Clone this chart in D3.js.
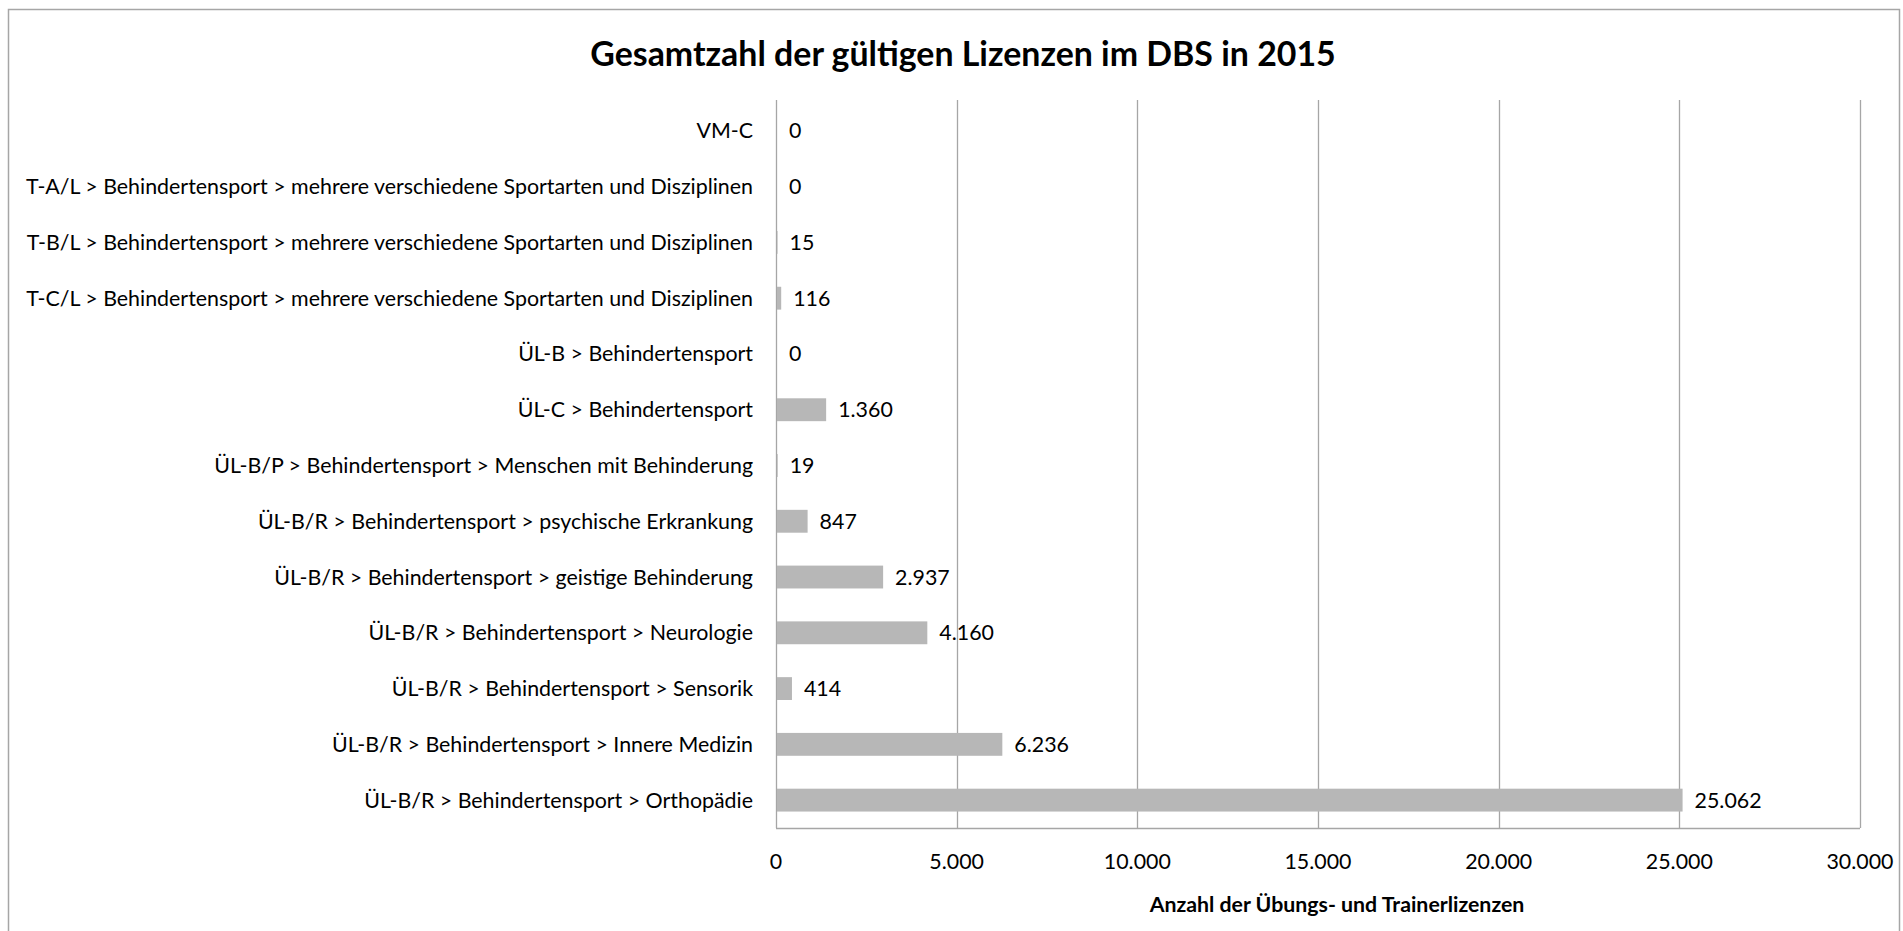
<!DOCTYPE html>
<html>
<head>
<meta charset="utf-8">
<script src="https://cdn.jsdelivr.net/npm/d3@7"></script>
<style>
  html, body { margin: 0; padding: 0; background: #fff; }
  svg { display: block; }
</style>
</head>
<body>
<div id="chart"></div>
<script>
// Chart data (top to bottom as shown)
const categories = [
  "VM-C",
  "T-A/L > Behindertensport > mehrere verschiedene Sportarten und Disziplinen",
  "T-B/L > Behindertensport > mehrere verschiedene Sportarten und Disziplinen",
  "T-C/L > Behindertensport > mehrere verschiedene Sportarten und Disziplinen",
  "ÜL-B > Behindertensport",
  "ÜL-C > Behindertensport",
  "ÜL-B/P > Behindertensport > Menschen mit Behinderung",
  "ÜL-B/R > Behindertensport > psychische Erkrankung",
  "ÜL-B/R > Behindertensport > geistige Behinderung",
  "ÜL-B/R > Behindertensport > Neurologie",
  "ÜL-B/R > Behindertensport > Sensorik",
  "ÜL-B/R > Behindertensport > Innere Medizin",
  "ÜL-B/R > Behindertensport > Orthopädie"
];
const values = [0, 0, 15, 116, 0, 1360, 19, 847, 2937, 4160, 414, 6236, 25062];
const xTicks = [0, 5000, 10000, 15000, 20000, 25000, 30000];

const title = "Gesamtzahl der gültigen Lizenzen im DBS in 2015";
const xTitle = "Anzahl der Übungs- und Trainerlizenzen";

const width = 1903, height = 931;
const margin = { top: 100, right: 43, bottom: 103, left: 776 };
const font = "Lato, 'Open Sans', sans-serif";

const data = categories.map((c, i) => ({ name: c, value: values[i] }));

// German number format: 25.062
const deDE = d3.formatLocale({ decimal: ",", thousands: ".", grouping: [3], currency: ["", " €"] });
const fmt = deDE.format(",d");

const svg = d3.select("#chart").append("svg")
  .attr("width", width)
  .attr("height", height);

// outer chart border
svg.append("rect")
  .attr("x", 8.5).attr("y", 9.5)
  .attr("width", 1891).attr("height", 940)
  .attr("fill", "#fff")
  .attr("stroke", "#a6a6a6")
  .attr("stroke-width", 1.5);

const x = d3.scaleLinear()
  .domain([0, 30000])
  .range([margin.left, width - margin.right]);

// category bands start a little below the top of the gridlines
const y = d3.scaleBand()
  .domain(categories)
  .range([margin.top + 3, height - margin.bottom])
  .paddingInner(0.59)
  .paddingOuter(0.295);

// scale the font so that a text reaches the measured width
function fitFont(sel, target, base) {
  sel.attr("font-size", base);
  const w = sel.node().getComputedTextLength();
  const size = base * target / w;
  sel.attr("font-size", size);
  return size;
}

// vertical gridlines
svg.append("g")
  .selectAll("line")
  .data(xTicks)
  .join("line")
  .attr("x1", d => Math.round(x(d)) + 0.5)
  .attr("x2", d => Math.round(x(d)) + 0.5)
  .attr("y1", margin.top)
  .attr("y2", height - margin.bottom)
  .attr("stroke", "#a6a6a6")
  .attr("stroke-width", 1.3);

// bottom axis line
svg.append("line")
  .attr("x1", x(0)).attr("x2", x(30000))
  .attr("y1", height - margin.bottom + 0.5)
  .attr("y2", height - margin.bottom + 0.5)
  .attr("stroke", "#a6a6a6")
  .attr("stroke-width", 1.3);

// bars
svg.append("g")
  .selectAll("rect")
  .data(data)
  .join("rect")
  .attr("x", x(0) + 1)
  .attr("y", d => y(d.name))
  .attr("width", d => Math.max(0, x(d.value) - x(0)))
  .attr("height", y.bandwidth())
  .attr("fill", "#b7b7b7");

// category labels
const catG = svg.append("g");
const catLabels = catG.selectAll("text")
  .data(data)
  .join("text")
  .attr("x", 753)
  .attr("y", d => y(d.name) + y.bandwidth() / 2)
  .attr("dy", "0.35em")
  .attr("text-anchor", "end")
  .attr("font-family", font)
  .attr("fill", "#000")
  .text(d => d.name);

const labelSize = fitFont(catLabels.filter((d, i) => i === 3), 727, 20);
catLabels.attr("font-size", labelSize);

// value labels
svg.append("g")
  .selectAll("text")
  .data(data)
  .join("text")
  .attr("x", d => x(d.value) + 13)
  .attr("y", d => y(d.name) + y.bandwidth() / 2)
  .attr("dy", "0.35em")
  .attr("font-family", font)
  .attr("font-size", labelSize)
  .attr("fill", "#000")
  .text(d => fmt(d.value));

// x tick labels
svg.append("g")
  .selectAll("text")
  .data(xTicks)
  .join("text")
  .attr("x", d => x(d))
  .attr("y", 862)
  .attr("dy", "0.35em")
  .attr("text-anchor", "middle")
  .attr("font-family", font)
  .attr("font-size", labelSize)
  .attr("fill", "#000")
  .text(d => fmt(d));

// chart title
const t = svg.append("text")
  .attr("x", 963)
  .attr("y", 54)
  .attr("dy", "0.35em")
  .attr("text-anchor", "middle")
  .attr("font-family", font)
  .attr("font-weight", "bold")
  .attr("fill", "#000")
  .text(title);
fitFont(t, 746, 26);

// x axis title
const xt = svg.append("text")
  .attr("x", 1337)
  .attr("y", 905)
  .attr("dy", "0.35em")
  .attr("text-anchor", "middle")
  .attr("font-family", font)
  .attr("font-weight", "bold")
  .attr("fill", "#000")
  .text(xTitle);
fitFont(xt, 375, 17);
</script>
</body>
</html>
